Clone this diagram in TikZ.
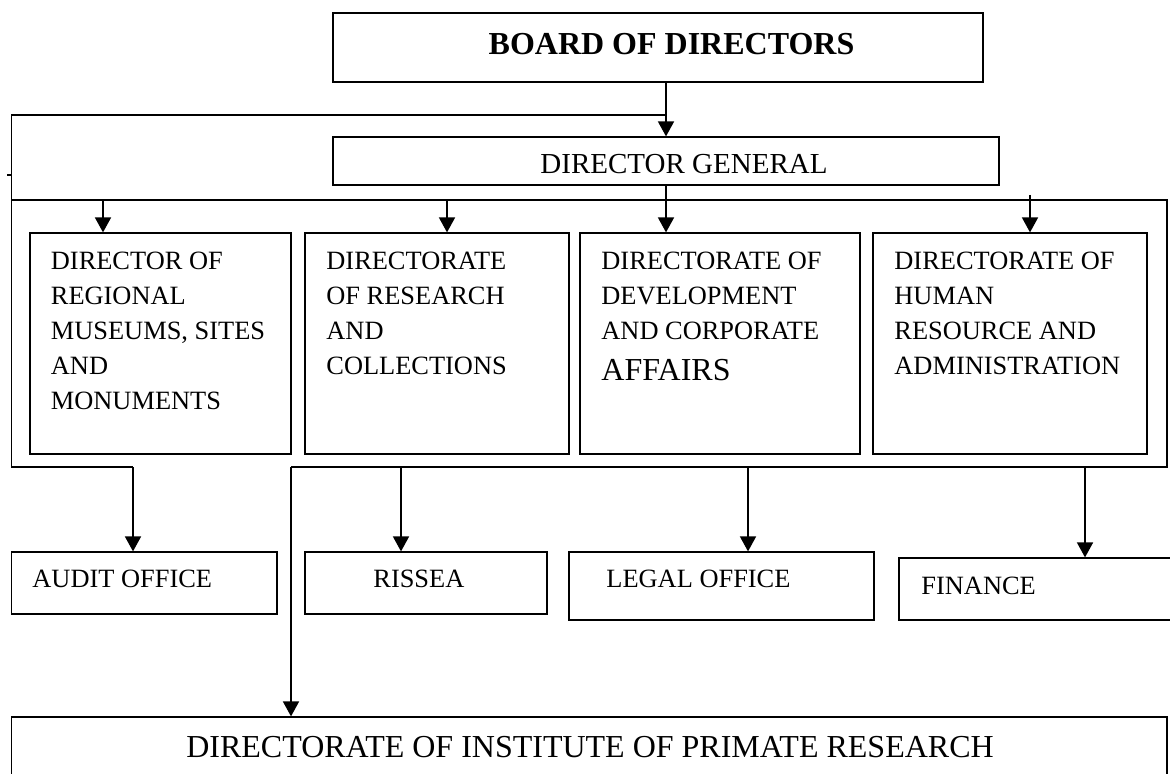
\documentclass[tikz,border=0pt]{standalone}
\usepackage{fontspec}
\setmainfont{Liberation Serif}
\usetikzlibrary{arrows.meta,fit}

\begin{document}
\begin{tikzpicture}[x=0.5pt,y=-0.5pt,
	box/.style={draw,line width=0.6pt,inner sep=0pt},
	wire/.style={line width=0.6pt},
	arr/.style={line width=0.85pt,-{Triangle[length=7.5pt,width=8pt]}},
	txt/.style={font=\fontsize{13.2}{17.5}\selectfont,inner sep=0pt},
	big/.style={font=\fontsize{16}{19}\selectfont,inner sep=0pt}]
	\useasboundingbox (0,0) rectangle (1170,774);
	\clip (0,0) rectangle (1170,774);
	% boxes
	\node[box,fit={(333,13) (983,82)}] (board) {};
	\node[box,fit={(333,137) (999,185)}] (dg) {};
	\node[box,fit={(30,233) (291,454)}] (dir1) {};
	\node[box,fit={(305,233) (569,454)}] (dir2) {};
	\node[box,fit={(580,233) (860,454)}] (dir3) {};
	\node[box,fit={(873,233) (1147,454)}] (dir4) {};
	\node[box,fit={(11.5,552) (277,614)}] (audit) {};
	\node[box,fit={(305,552) (547,614)}] (rissea) {};
	\node[box,fit={(569,552) (874,620)}] (legal) {};
	\node[box,fit={(899,558) (1190,620)}] (finance) {};
	\node[box,fit={(11.5,717) (1167,800)}] (ipr) {};
	% texts
	\node[big,font=\bfseries\fontsize{16}{19}\selectfont,anchor=base] (board-t) at (671.5,55) {BOARD OF DIRECTORS};
	\node[txt,font=\fontsize{14.5}{17.5}\selectfont,anchor=base] (dg-t) at (684,174) {DIRECTOR GENERAL};
	\node[txt,anchor=north west,align=left] (dir1-t) at (50.5,252) {DIRECTOR OF\\REGIONAL\\MUSEUMS, SITES\\AND\\MONUMENTS};
	\node[txt,anchor=north west,align=left] (dir2-t) at (326,252) {DIRECTORATE\\OF RESEARCH\\AND\\COLLECTIONS};
	\node[txt,anchor=north west,align=left] (dir3-t) at (601,252) {DIRECTORATE OF\\DEVELOPMENT\\AND CORPORATE\\[3pt]{\fontsize{16}{19}\selectfont AFFAIRS}};
	\node[txt,anchor=north west,align=left] (dir4-t) at (894,252) {DIRECTORATE OF\\HUMAN\\RESOURCE AND\\ADMINISTRATION};
	\node[txt,anchor=base west] (audit-t) at (32,587) {AUDIT OFFICE};
	\node[txt,anchor=base west] (rissea-t) at (373,587) {RISSEA};
	\node[txt,anchor=base west] (legal-t) at (606,587) {LEGAL OFFICE};
	\node[txt,anchor=base west] (finance-t) at (921,594) {FINANCE};
	\node[big,anchor=base] (ipr-t) at (590,757) {DIRECTORATE OF INSTITUTE OF PRIMATE RESEARCH};
	% outer frames
	\coordinate (tl) at (11.5,115);
	\coordinate (ta) at (133,467);
	\draw[wire] (tl -| dg.north) -- (tl) -- (tl |- ta) -- (ta);
	\draw[wire] (7,175) -- (11.5,175);
	\coordinate (fl) at (11.5,200);
	\coordinate (fr) at (1167,200);
	\coordinate (tp) at (291,467);
	\draw[wire] (fl) -- (fr) -- (fr |- tp) -- (tp);
	% arrows
	\draw[arr] (board.south -| dg.north) -- (dg.north);
	\draw[arr] (dg.south) -- (dg.south |- dir3.north);
	\foreach \n/\x/\y in {dir1/103/200,dir2/447/200,dir4/1030/195}{
		\coordinate (a-\n) at (\x,\y);
		\draw[arr] (a-\n) -- (a-\n |- \n.north);
	}
	\draw[arr] (ta) -- (ta |- audit.north);
	\draw[arr] (tp) -- (tp |- ipr.north);
	\foreach \n/\x in {rissea/401,legal/748,finance/1085}{
		\coordinate (a-\n) at (\x,467);
		\draw[arr] (a-\n) -- (a-\n |- \n.north);
	}
\end{tikzpicture}
\end{document}
